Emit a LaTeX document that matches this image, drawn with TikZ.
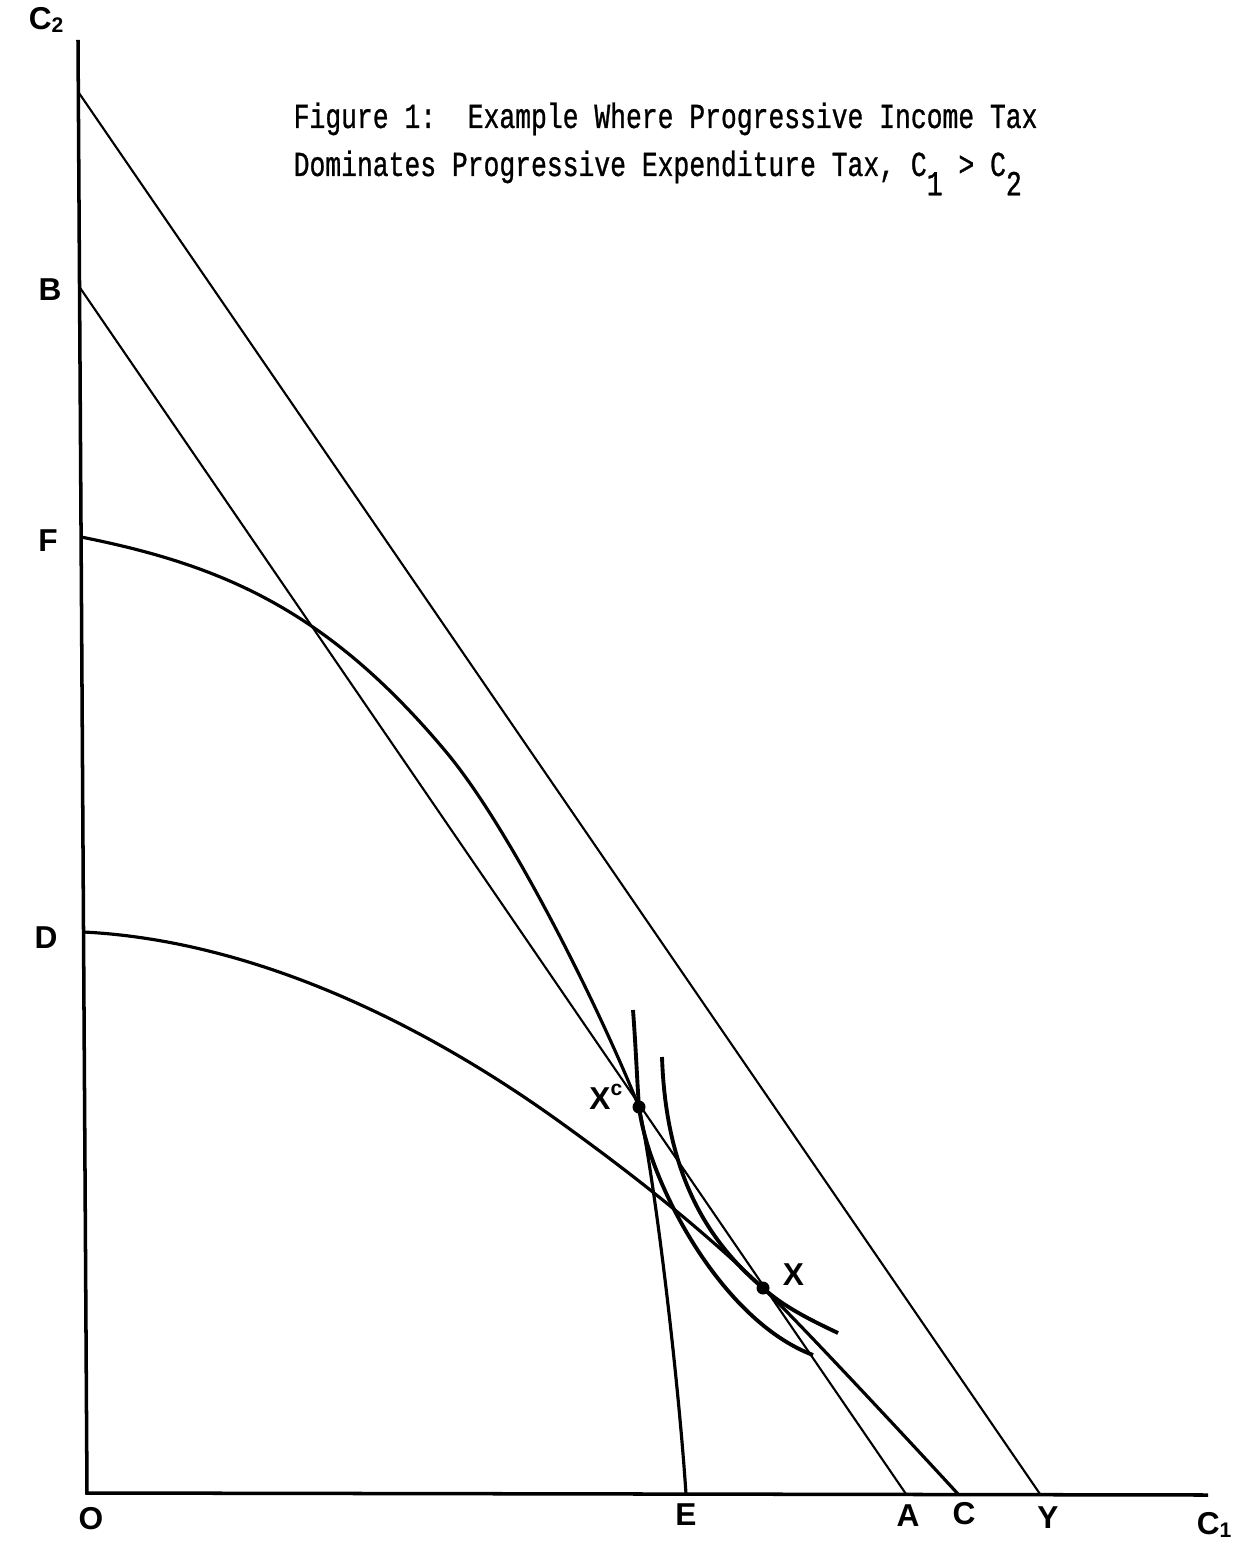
\documentclass[tikz,border=0pt]{standalone}
\usepackage{fontspec}
\newfontfamily\titlefont[FakeStretch=0.75,FakeBold=0.8]{Liberation Mono}
\newfontfamily\handfont{Liberation Sans}
\usetikzlibrary{positioning}

\begin{document}
\begin{tikzpicture}[x=0.01cm,y=-0.01cm,
  axis/.style={line width=1pt},
  budget/.style={line width=0.6pt},
  frontier/.style={line width=0.9pt},
  indiff/.style={line width=1.1pt},
  hand/.style={font=\handfont\bfseries\fontsize{9}{11}\selectfont,inner sep=0pt},
  title/.style={font=\titlefont\fontsize{10}{12}\selectfont,inner sep=0pt,anchor=base west},
  dot/.style={circle,fill,inner sep=0pt,minimum size=0.13cm}]
  \useasboundingbox (0,0) rectangle (1242,1543);
  \coordinate (top) at (78,40);
  \coordinate (O) at (87,1493);
  \coordinate (right) at (1208,1495);
  \coordinate (K) at (78.3,92);
  \coordinate (B) at (79.5,287);
  \coordinate (F) at (81,537);
  \coordinate (D) at (83.5,932);
  \coordinate (E) at (686,1494);
  \coordinate (A) at (906,1494);
  \coordinate (C) at (958,1494);
  \coordinate (Y) at (1040,1494);
  \coordinate (Fk) at (447,753);
  \coordinate (Dk) at (560,1122);
  \node[dot] (Xc) at (639,1107) {};
  \node[dot] (X) at (763,1288) {};

  \draw[axis] (top) -- (O) -- (right);
  \draw[budget] (K) -- (Y);
  \draw[budget] (B) -- (A);
  % frontiers
  \draw[frontier] (F) .. controls (221,565) and (327,609) .. (Fk)
    .. controls (511,830) and (599,1007) .. (Xc.center)
    .. controls (655,1182) and (678,1374) .. (E);
  \draw[frontier] (D) .. controls (243,940) and (410,1014) .. (Dk)
    .. controls (628,1171) and (695,1223) .. (X.center)
    .. controls (795,1318) and (926,1459) .. (C);
  % indifference curves
  \draw[indiff] (633,1010) .. controls (636,1050) and (637,1080) .. (Xc.center)
    .. controls (648,1180) and (720,1320) .. (813,1355);
  \draw[indiff] (662,1057) .. controls (666,1180) and (712,1245) .. (X.center)
    .. controls (785,1308) and (815,1322) .. (838,1333);

  \foreach \n/\p/\t in {c2/{(47,20)}/{C\textsubscript{2}}, lB/{(50,290)}/B, lF/{(48,541)}/F,
    lD/{(46,938)}/D, lO/{(91,1519)}/O, lE/{(686,1515)}/E, lA/{(908,1516)}/A,
    lC/{(964,1514)}/C, lY/{(1048,1518)}/Y, c1/{(1215,1525)}/{C\textsubscript{1}}}
    \node[hand] (\n) at \p {\t};
  \node[hand,left=0.07cm of Xc,yshift=0.1cm] (lXc) {X\textsuperscript{c}};
  \node[hand,right=0.12cm of X,yshift=0.13cm] (lX) {X};

  \node[title] (t1) at (293,128) {Figure 1:\ \ Example Where Progressive Income Tax};
  \node[title] (t2) at (293,176) {Dominates Progressive Expenditure Tax,
    C\raisebox{-0.55em}{1} > C\raisebox{-0.55em}{2}};
\end{tikzpicture}
\end{document}
